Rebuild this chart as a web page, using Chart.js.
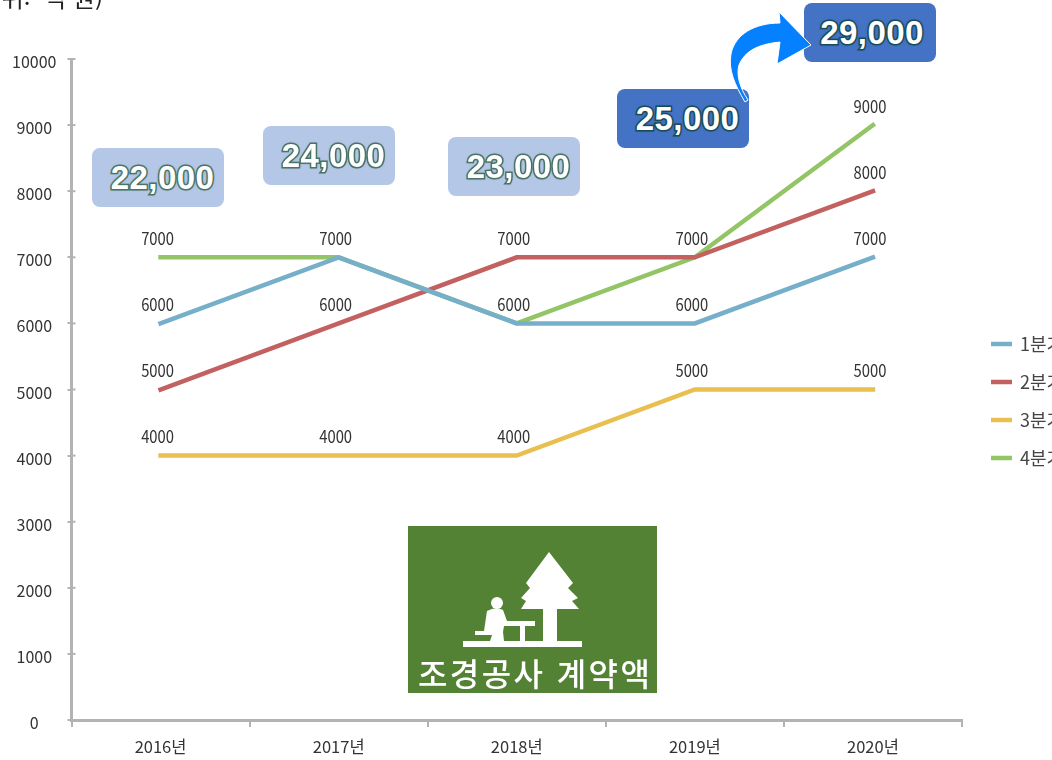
<!DOCTYPE html>
<html lang="ko">
<head>
<meta charset="utf-8">
<script src="https://cdn.jsdelivr.net/npm/chart.js@4/dist/chart.umd.min.js"></script>
<style>
html,body{margin:0;padding:0;background:#fff;overflow:hidden;width:1052px;height:760px}
#stage{position:relative;width:1052px;height:760px;overflow:hidden}
canvas{position:absolute;left:0;top:0}
.box{position:absolute;box-sizing:border-box;width:132px;height:59px;border-radius:8px;display:flex;align-items:center;justify-content:center;color:#fff;font:bold 33px "Liberation Sans",sans-serif;letter-spacing:.4px;paint-order:stroke fill}
.light{background:#b4c7e7;-webkit-text-stroke:3px #4a7565;text-shadow:0 0 3px #4a7565}
.dark{background:#4472c4;-webkit-text-stroke:3px #174c58;text-shadow:0 0 3px #174c58}
#unit{position:absolute;right:949px;top:-21px;font:24px "Noto Sans CJK KR",sans-serif;color:#222;white-space:pre}
#green{position:absolute;left:408px;top:526px;width:249px;height:167px;background:#548235}
#gtext{position:absolute;left:10px;top:124px;font:500 32px "Noto Sans CJK KR",sans-serif;line-height:44px;color:#fff;letter-spacing:2.4px;white-space:nowrap}
svg{position:absolute;left:0;top:0;overflow:visible}
</style>
</head>
<body>
<div id="stage">
<canvas id="c" width="1052" height="760"></canvas>
<div id="unit"></div>
<svg width="1052" height="760">
<path d="M745 102 C735 85 728 70 731 54 C735 34 755 23 780 23 L779 12 L811 45 L777 64 L780 42 C760 44 745 50 739 65 C736 75 740 88 748 100 Z" fill="#0580ff" stroke="#fff" stroke-width="1"/>
</svg>
<div id="green">
<svg width="249" height="167" style="left:0;top:0">
<g fill="#fff">
<path d="M141 26 L165 57 L160 62 L170 72 L164 75 L171 83 L149 83 L149 116 L135 116 L135 83 L113 83 L118 75 L113 72 L122 62 L118 57 Z"/>
<rect x="55" y="115" width="119" height="6"/>
<circle cx="89" cy="77" r="6"/>
<path d="M79 85 Q88 80 95 84 L99 95 L127 95 L127 100 L117 100 L117 115 L112 115 L112 100 L96 100 L95 106 L96 115 L82 115 L84 109 L67 109 L67 105 L76 105 Z"/>
</g>
</svg>
<div id="gtext"></div>
</div>
</div>
<script>
const categories = ["2016년","2017년","2018년","2019년","2020년"];
const q1 = [6000,7000,6000,6000,7000];
const q2 = [5000,6000,7000,7000,8000];
const q3 = [4000,4000,4000,5000,5000];
const q4 = [7000,7000,6000,7000,9000];
const seriesNames = ["1분기","2분기","3분기","4분기"];
const seriesColors = ["#76afca","#c2615f","#e9c04f","#93c566"];
const totals = ["22,000","24,000","23,000","25,000","29,000"];
const unitLabel = "(단위:  억 원)";
const badgeLabel = "조경공사 계약액";

const boxPos = [[92,148,"light",9],[263,126,"light",9],[448,137,"light",9],[617,89,"dark",9],[804,3,"dark",4]];
const stage = document.getElementById("stage");
const arrow = stage.querySelector("svg");
totals.forEach((t,i)=>{
  const d=document.createElement("div");
  d.className="box "+boxPos[i][2];
  d.style.left=boxPos[i][0]+"px"; d.style.top=boxPos[i][1]+"px";
  d.style.paddingLeft=boxPos[i][3]+"px";
  d.textContent=t;
  stage.insertBefore(d,arrow);
});
document.getElementById("unit").textContent=unitLabel;
document.getElementById("gtext").textContent=badgeLabel;

const FONT='"Noto Sans CJK KR",sans-serif';
const AXIS='#b3b3b3';

const extras={
  id:'extras',
  afterDatasetsDraw(chart){
    const ctx=chart.ctx, y=chart.scales.y, x=chart.scales.x;
    ctx.save();
    ctx.strokeStyle=AXIS; ctx.lineWidth=2;
    y.ticks.forEach((t,i)=>{
      const p=y.getPixelForTick(i);
      ctx.beginPath();ctx.moveTo(y.right,p);ctx.lineTo(y.right+4,p);ctx.stroke();
    });
    // value labels, one per distinct value at each category
    ctx.fillStyle='#333'; ctx.font='17px '+FONT;
    ctx.textAlign='center'; ctx.textBaseline='middle';
    categories.forEach((c,i)=>{
      const seen=new Set();
      chart.data.datasets.forEach(ds=>{
        const v=ds.data[i];
        if(seen.has(v))return; seen.add(v);
        ctx.save();
        ctx.translate(x.getPixelForValue(i)-3,y.getPixelForValue(v)-19);
        ctx.scale(0.87,1);
        ctx.fillText(String(v),0,0);
        ctx.restore();
      });
    });
    // legend, running off the right edge as in the reference
    ctx.textAlign='left'; ctx.font='18px '+FONT;
    chart.data.datasets.forEach((ds,i)=>{
      const ly=344+i*38;
      ctx.strokeStyle=ds.borderColor; ctx.lineWidth=4.5;
      ctx.beginPath();ctx.moveTo(991,ly);ctx.lineTo(1012,ly);ctx.stroke();
      ctx.fillStyle='#444';
      ctx.fillText(ds.label,1020,ly);
    });
    ctx.restore();
  }
};

const mk=(i,data)=>({label:seriesNames[i],data,borderColor:seriesColors[i],backgroundColor:seriesColors[i],borderWidth:4.5,borderCapStyle:'square',pointRadius:0,tension:0,fill:false,clip:false});

new Chart(document.getElementById("c"),{
  type:'line',
  data:{labels:categories,datasets:[mk(0,q1),mk(1,q2),mk(2,q3),mk(3,q4)]},
  plugins:[extras],
  options:{
    responsive:false,animation:false,
    layout:{padding:{left:0,top:59,right:90,bottom:0}},
    plugins:{legend:{display:false},title:{display:false},tooltip:{enabled:false}},
    scales:{
      x:{
        offset:true,
        afterFit(s){s.height=40;},
        border:{color:AXIS,width:3},
        grid:{offset:true,drawOnChartArea:false,color:AXIS,lineWidth:2,tickLength:7},
        ticks:{color:'#333',font:{size:16.5,family:FONT},padding:10,maxRotation:0}
      },
      y:{
        min:0,max:10000,
        afterFit(s){s.width=71.5;},
        border:{color:AXIS,width:3},
        grid:{drawOnChartArea:false,color:AXIS,lineWidth:2,tickLength:4},
        ticks:{stepSize:1000,color:'#333',font:{size:16,family:FONT},crossAlign:'center',padding:11,labelOffset:3,callback:v=>String(v)}
      }
    }
  }
});
</script>
</body>
</html>
